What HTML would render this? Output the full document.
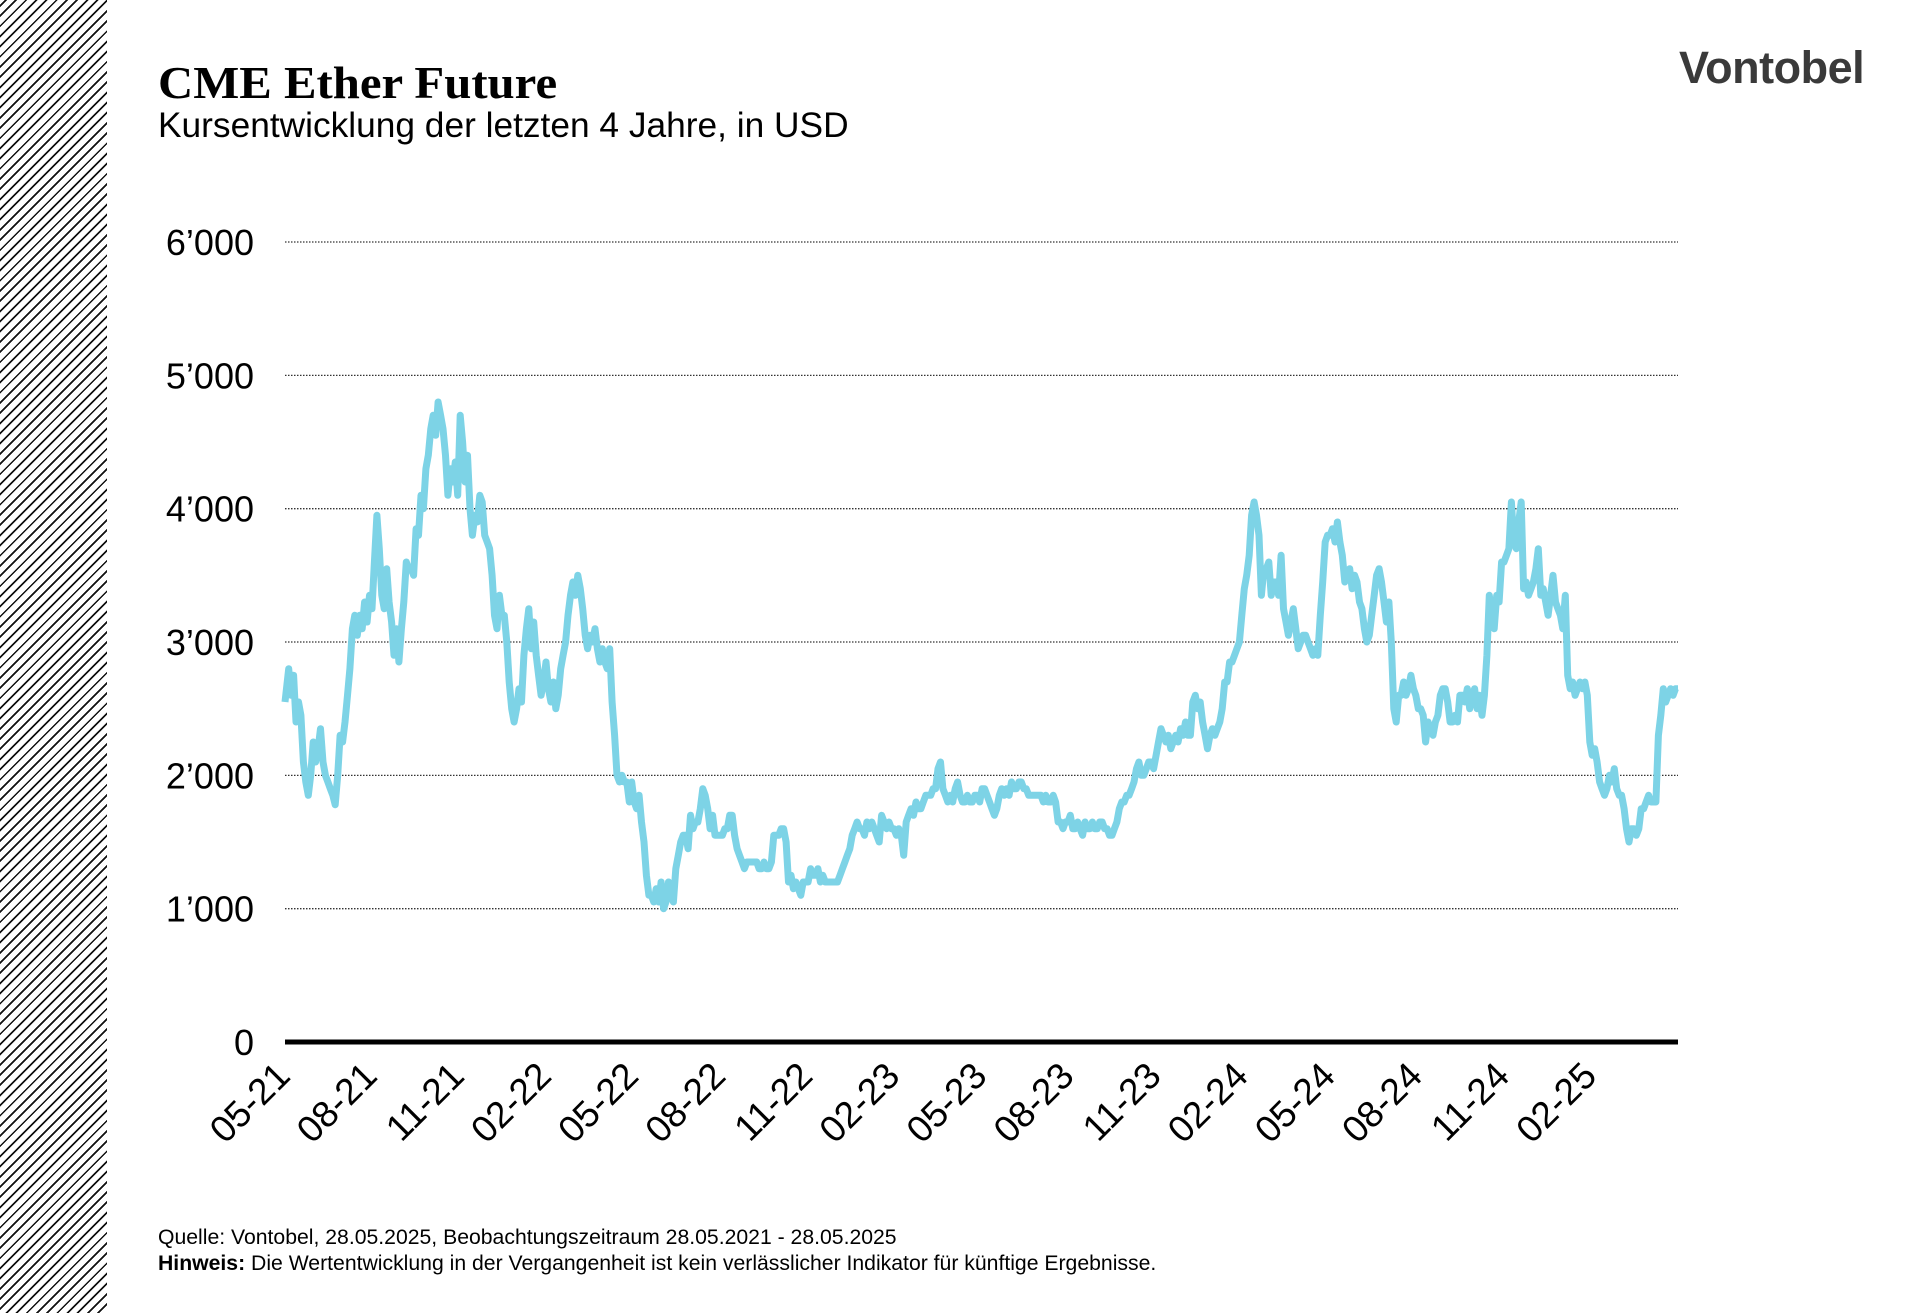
<!DOCTYPE html>
<html><head><meta charset="utf-8"><style>
html,body{margin:0;padding:0;background:#fff;}
body{width:1920px;height:1313px;position:relative;overflow:hidden;font-family:"Liberation Sans",sans-serif;color:#000;}
#hatch{position:absolute;left:0;top:0;width:107px;height:1313px;background:repeating-linear-gradient(-45deg,#fff 0px,#fff 5.5px,#111 5.5px,#111 7.2px);}
</style></head><body>
<div id="hatch"></div>
<div style="position:absolute;left:158px;top:56px;font-family:'Liberation Serif',serif;font-weight:bold;font-size:46px;transform:scaleX(1.06);transform-origin:0 0;">CME Ether Future</div>
<div style="position:absolute;left:158px;top:106px;font-size:35.3px;">Kursentwicklung der letzten 4 Jahre, in USD</div>
<div style="position:absolute;left:1679px;top:42px;font-size:45px;font-weight:bold;color:#3a3a3a;letter-spacing:-0.5px;">Vontobel</div>
<div style="position:absolute;left:158px;top:1226px;font-size:21.2px;">Quelle: Vontobel, 28.05.2025, Beobachtungszeitraum 28.05.2021 - 28.05.2025</div>
<div style="position:absolute;left:158px;top:1252px;font-size:21.2px;"><b>Hinweis:</b> Die Wertentwicklung in der Vergangenheit ist kein verlässlicher Indikator für künftige Ergebnisse.</div>
<svg id="c" width="1920" height="1313" style="position:absolute;left:0;top:0" xmlns="http://www.w3.org/2000/svg"></svg>
<script>
var d=[233,2.55,236,2.8,238,2.6,240,2.75,242,2.4,244,2.55,246,2.45,248,2.1,250,1.95,252,1.85,254,2.0,256,2.25,258,2.1,260,2.2,262,2.35,264,2.1,266,2.0,268,1.95,270,1.9,272,1.85,274,1.78,276,2.0,278,2.3,280,2.25,282,2.4,284,2.6,286,2.8,288,3.1,290,3.2,292,3.05,294,3.2,296,3.1,298,3.3,300,3.15,302,3.35,304,3.25,306,3.6,308,3.95,310,3.7,312,3.35,314,3.25,316,3.55,318,3.3,320,3.15,322,2.9,324,3.1,326,2.85,328,3.1,330,3.3,332,3.6,334,3.55,336,3.55,338,3.5,340,3.85,342,3.8,344,4.1,346,4.0,348,4.3,350,4.4,352,4.6,354,4.7,356,4.55,358,4.8,360,4.7,362,4.6,364,4.4,366,4.1,368,4.3,370,4.2,372,4.35,374,4.1,376,4.7,378,4.5,380,4.2,382,4.4,384,4.0,386,3.8,388,3.95,390,3.9,392,4.1,394,4.05,396,3.8,398,3.75,400,3.7,402,3.5,404,3.2,406,3.1,408,3.35,410,3.2,412,3.2,414,3.0,416,2.7,418,2.5,420,2.4,422,2.5,424,2.65,426,2.55,428,2.9,430,3.1,432,3.25,434,2.95,436,3.15,438,2.9,440,2.75,442,2.6,444,2.7,446,2.85,448,2.65,450,2.55,452,2.7,454,2.5,456,2.6,458,2.8,460,2.9,462,3.0,464,3.2,466,3.35,468,3.45,470,3.35,472,3.5,474,3.4,476,3.25,478,3.05,480,2.95,482,3.05,484,3.0,486,3.1,488,2.95,490,2.85,492,2.95,494,2.85,496,2.8,498,2.95,500,2.55,502,2.3,504,2.0,506,1.95,508,2.0,510,1.95,512,1.95,514,1.8,516,1.95,518,1.8,520,1.75,522,1.85,524,1.65,526,1.5,528,1.25,530,1.1,532,1.1,534,1.05,536,1.15,538,1.05,540,1.2,542,1.0,544,1.05,546,1.2,548,1.1,550,1.05,552,1.3,554,1.4,556,1.5,558,1.55,560,1.55,562,1.45,564,1.7,566,1.6,568,1.65,570,1.65,572,1.75,574,1.9,576,1.85,578,1.75,580,1.6,582,1.7,584,1.55,586,1.55,588,1.55,590,1.55,592,1.6,594,1.6,596,1.7,598,1.7,600,1.55,602,1.45,604,1.4,606,1.35,608,1.3,610,1.35,612,1.35,614,1.35,616,1.35,618,1.35,620,1.3,622,1.3,624,1.35,626,1.3,628,1.3,630,1.35,632,1.55,634,1.55,636,1.55,638,1.6,640,1.6,642,1.5,644,1.2,646,1.25,648,1.15,650,1.2,652,1.15,654,1.1,656,1.2,658,1.2,660,1.2,662,1.3,664,1.25,666,1.25,668,1.3,670,1.2,672,1.25,674,1.2,676,1.2,678,1.2,680,1.2,682,1.2,684,1.2,686,1.25,688,1.3,690,1.35,692,1.4,694,1.45,696,1.55,698,1.6,700,1.65,702,1.6,704,1.6,706,1.55,708,1.65,710,1.6,712,1.65,714,1.6,716,1.55,718,1.5,720,1.7,722,1.65,724,1.6,726,1.65,728,1.6,730,1.6,732,1.55,734,1.6,736,1.55,738,1.4,740,1.65,742,1.7,744,1.75,746,1.7,748,1.8,750,1.75,752,1.75,754,1.8,756,1.85,758,1.85,760,1.85,762,1.9,764,1.9,766,2.05,768,2.1,770,1.9,772,1.85,774,1.8,776,1.85,778,1.8,780,1.9,782,1.95,784,1.85,786,1.8,788,1.8,790,1.85,792,1.8,794,1.8,796,1.85,798,1.85,800,1.8,802,1.9,804,1.9,806,1.85,808,1.8,810,1.75,812,1.7,814,1.75,816,1.85,818,1.9,820,1.85,822,1.9,824,1.85,826,1.95,828,1.9,830,1.9,832,1.95,834,1.95,836,1.9,838,1.9,840,1.85,842,1.85,844,1.85,846,1.85,848,1.85,850,1.85,852,1.8,854,1.85,856,1.8,858,1.8,860,1.85,862,1.8,864,1.65,866,1.65,868,1.6,870,1.65,872,1.65,874,1.7,876,1.6,878,1.6,880,1.65,882,1.6,884,1.55,886,1.65,888,1.6,890,1.6,892,1.65,894,1.6,896,1.6,898,1.65,900,1.65,902,1.6,904,1.6,906,1.55,908,1.55,910,1.6,912,1.65,914,1.75,916,1.8,918,1.8,920,1.85,922,1.85,924,1.9,926,1.95,928,2.05,930,2.1,932,2.0,934,2.0,936,2.05,938,2.1,940,2.1,942,2.05,944,2.15,946,2.25,948,2.35,950,2.3,952,2.25,954,2.3,956,2.2,958,2.25,960,2.3,962,2.25,964,2.35,966,2.3,968,2.4,970,2.3,972,2.3,974,2.55,976,2.6,978,2.5,980,2.55,982,2.4,984,2.3,986,2.2,988,2.3,990,2.35,992,2.3,994,2.35,996,2.4,998,2.5,1000,2.7,1002,2.7,1004,2.85,1006,2.85,1008,2.9,1010,2.95,1012,3.0,1014,3.2,1016,3.4,1018,3.5,1020,3.65,1022,3.95,1024,4.05,1026,3.95,1028,3.8,1030,3.35,1032,3.55,1034,3.55,1036,3.6,1038,3.35,1040,3.45,1042,3.45,1044,3.35,1046,3.65,1048,3.25,1050,3.15,1052,3.05,1054,3.15,1056,3.25,1058,3.1,1060,2.95,1062,3.0,1064,3.05,1066,3.05,1068,3.0,1070,2.95,1072,2.9,1074,2.95,1076,2.9,1078,3.2,1080,3.45,1082,3.75,1084,3.8,1086,3.8,1088,3.85,1090,3.75,1092,3.9,1094,3.75,1096,3.65,1098,3.45,1100,3.5,1102,3.55,1104,3.4,1106,3.5,1108,3.45,1110,3.3,1112,3.25,1114,3.1,1116,3.0,1118,3.05,1120,3.2,1122,3.35,1124,3.5,1126,3.55,1128,3.45,1130,3.3,1132,3.15,1134,3.3,1136,3.0,1138,2.5,1140,2.4,1142,2.6,1144,2.6,1146,2.7,1148,2.6,1150,2.65,1152,2.75,1154,2.65,1156,2.6,1158,2.5,1160,2.5,1162,2.45,1164,2.25,1166,2.4,1168,2.35,1170,2.3,1172,2.4,1174,2.45,1176,2.6,1178,2.65,1180,2.65,1182,2.55,1184,2.4,1186,2.4,1188,2.45,1190,2.4,1192,2.6,1194,2.6,1196,2.55,1198,2.65,1200,2.5,1202,2.6,1204,2.65,1206,2.5,1208,2.6,1210,2.45,1212,2.6,1214,2.9,1216,3.35,1218,3.2,1220,3.1,1222,3.35,1224,3.3,1226,3.6,1228,3.6,1230,3.65,1232,3.7,1234,4.05,1236,3.75,1238,3.7,1240,3.9,1242,4.05,1244,3.4,1246,3.45,1248,3.35,1250,3.4,1252,3.45,1254,3.55,1256,3.7,1258,3.35,1260,3.4,1262,3.3,1264,3.2,1266,3.35,1268,3.5,1270,3.3,1272,3.25,1274,3.2,1276,3.1,1278,3.35,1280,2.75,1282,2.65,1284,2.7,1286,2.6,1288,2.65,1290,2.7,1292,2.65,1294,2.7,1296,2.6,1298,2.25,1300,2.15,1302,2.2,1304,2.1,1306,1.95,1308,1.9,1310,1.85,1312,1.9,1314,2.0,1316,1.95,1318,2.05,1320,1.9,1322,1.85,1324,1.85,1326,1.75,1328,1.6,1330,1.5,1332,1.6,1334,1.6,1336,1.55,1338,1.6,1340,1.75,1342,1.75,1344,1.8,1346,1.85,1348,1.8,1350,1.8,1352,1.8,1354,2.3,1356,2.45,1358,2.65,1360,2.55,1362,2.6,1364,2.65,1366,2.6,1368,2.65,1370,2.65];
var s=document.getElementById('c'),h='';
var X0=285,X1=1678,Y0=1042,K=133.33;
for(var i=0;i<=6;i++){var y=Y0-i*K;
 if(i>0)h+='<line x1="'+X0+'" y1="'+y+'" x2="'+X1+'" y2="'+y+'" stroke="#333" stroke-width="1.3" stroke-dasharray="1.5,1.5"/>';
 h+='<text x="254" y="'+(y+13)+'" text-anchor="end" font-family="Liberation Sans" font-size="36">'+(i==0?'0':i+'’000')+'</text>';}
var p='';for(var j=0;j<d.length;j+=2){var x=X0+(d[j]-233)*(X1-X0)/(1370-233);var y=Y0-d[j+1]*K;p+=(j?'L':'M')+x.toFixed(1)+','+y.toFixed(1);}
h+='<path d="'+p+'" fill="none" stroke="#7dd3e6" stroke-width="7" stroke-linejoin="round"/>';
h+='<line x1="'+X0+'" y1="'+Y0+'" x2="'+X1+'" y2="'+Y0+'" stroke="#000" stroke-width="5"/>';
var labs=['05-21','08-21','11-21','02-22','05-22','08-22','11-22','02-23','05-23','08-23','11-23','02-24','05-24','08-24','11-24','02-25'];
for(var k=0;k<labs.length;k++){var x=X0+k*87.1+7,y=1078;
 h+='<text x="'+x+'" y="'+y+'" text-anchor="end" font-family="Liberation Sans" font-size="37" transform="rotate(-45 '+x+' '+y+')">'+labs[k]+'</text>';}
s.innerHTML=h;
</script>
</body></html>
